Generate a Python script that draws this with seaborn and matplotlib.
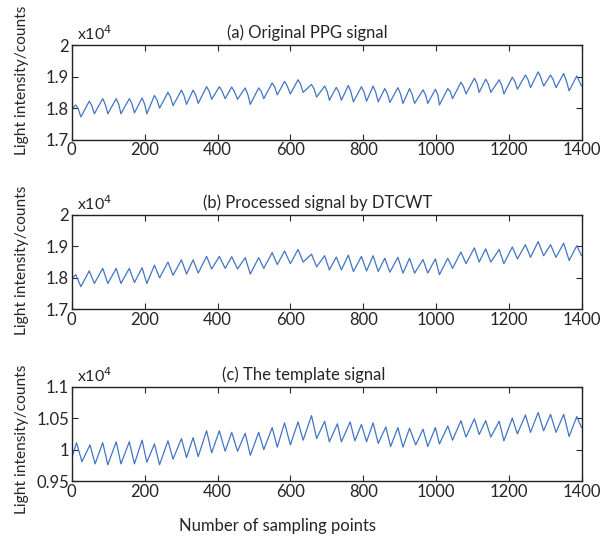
import numpy as np
import pandas as pd
import matplotlib
matplotlib.use("Agg")
import matplotlib.pyplot as plt
import seaborn as sns

#%% data (values in units of 10^4) ################################################
# (b) processed signal: turning points of the waveform
proc_x = [2, 11, 25, 48, 62, 85, 99, 122, 135, 158, 172, 193, 206, 227, 241, 264, 278,
          301, 315, 333, 347, 370, 384, 405, 421, 439, 455, 476, 490, 513, 527, 550, 564,
          584, 600, 621, 635, 658, 672, 694, 707, 726, 740, 759, 773, 795, 809, 827, 841,
          859, 873, 895, 909, 927, 941, 964, 977, 998, 1009, 1032, 1045, 1068, 1082, 1105,
          1118, 1136, 1150, 1173, 1186, 1209, 1223, 1245, 1259, 1280, 1295, 1314, 1329,
          1350, 1365, 1386, 1399]
proc_y = [1.800, 1.810, 1.772, 1.822, 1.782, 1.830, 1.782, 1.830, 1.782, 1.830, 1.785,
          1.832, 1.782, 1.840, 1.800, 1.850, 1.808, 1.857, 1.812, 1.857, 1.815, 1.868,
          1.828, 1.868, 1.830, 1.867, 1.828, 1.864, 1.812, 1.864, 1.830, 1.880, 1.842,
          1.885, 1.845, 1.890, 1.850, 1.875, 1.835, 1.870, 1.825, 1.866, 1.825, 1.872,
          1.820, 1.868, 1.822, 1.870, 1.820, 1.862, 1.818, 1.865, 1.815, 1.862, 1.815,
          1.858, 1.815, 1.860, 1.810, 1.862, 1.830, 1.882, 1.845, 1.895, 1.850, 1.892,
          1.850, 1.890, 1.845, 1.898, 1.860, 1.905, 1.865, 1.915, 1.870, 1.905, 1.865,
          1.910, 1.855, 1.902, 1.870]

# (a) original signal: same beats plus the dicrotic shoulder on each down stroke
notch_x = [18, 55, 92, 129, 165, 200, 234, 271, 308, 340, 377, 412, 446, 483, 520, 557,
           591, 628, 665, 701, 733, 766, 802, 834, 866, 902, 934, 971, 1005, 1039, 1075,
           1112, 1143, 1180, 1216, 1252, 1287, 1321, 1357]
notch_y = [1.797, 1.808, 1.812, 1.812, 1.814, 1.813, 1.826, 1.835, 1.840, 1.842, 1.854,
           1.855, 1.853, 1.844, 1.853, 1.867, 1.871, 1.876, 1.861, 1.853, 1.851, 1.852,
           1.851, 1.851, 1.846, 1.846, 1.844, 1.842, 1.841, 1.852, 1.869, 1.878, 1.877,
           1.873, 1.885, 1.891, 1.898, 1.891, 1.888]

# (c) template signal
tmpl_x = [2, 13, 28, 50, 64, 85, 99, 122, 135, 158, 172, 193, 206, 227, 241, 264, 278,
          301, 315, 333, 347, 370, 384, 405, 421, 439, 455, 476, 490, 513, 527, 550, 564,
          584, 600, 621, 635, 658, 672, 694, 707, 729, 740, 764, 777, 795, 809, 827, 841,
          862, 875, 895, 909, 927, 944, 964, 977, 998, 1009, 1032, 1045, 1068, 1082, 1105,
          1118, 1136, 1150, 1173, 1186, 1209, 1223, 1245, 1259, 1280, 1295, 1314, 1329,
          1350, 1365, 1386, 1399]
tmpl_y = [0.990, 1.011, 0.981, 1.0075, 0.9775, 1.011, 0.976, 1.0125, 0.9775, 1.0125,
          0.9775, 1.015, 0.980, 1.009, 0.976, 1.014, 0.985, 1.0175, 0.9875, 1.019, 0.989,
          1.030, 0.995, 1.030, 0.9975, 1.0275, 0.9975, 1.026, 0.991, 1.0275, 1.000, 1.035,
          1.004, 1.0425, 1.0075, 1.044, 1.015, 1.054, 1.0175, 1.045, 1.0125, 1.041, 1.0125,
          1.044, 1.014, 1.040, 1.0125, 1.0425, 1.010, 1.036, 1.005, 1.035, 1.004, 1.034,
          1.0075, 1.0325, 1.005, 1.035, 1.009, 1.0375, 1.015, 1.046, 1.020, 1.049, 1.024,
          1.046, 1.020, 1.045, 1.014, 1.050, 1.025, 1.055, 1.0275, 1.059, 1.030, 1.056,
          1.0275, 1.056, 1.021, 1.0525, 1.035]

titles = ["(a) Original PPG signal", "(b) Processed signal by DTCWT", "(c) The template signal"]
ylims = [(1.7, 2.0), (1.7, 2.0), (0.95, 1.1)]
yticks = [[1.7, 1.8, 1.9, 2.0], [1.7, 1.8, 1.9, 2.0], [0.95, 1.0, 1.05, 1.1]]
xticks = [0, 200, 400, 600, 800, 1000, 1200, 1400]

#%% tables ########################################################################
proc = pd.DataFrame({"x": proc_x, "y": proc_y})
raw = pd.concat([proc, pd.DataFrame({"x": notch_x, "y": notch_y})]).sort_values("x")
tmpl = pd.DataFrame({"x": tmpl_x, "y": tmpl_y})
frames = [raw, proc, tmpl]

#%% plot ##########################################################################
sns.set_style("ticks")
plt.rcParams["font.family"] = ["Lato", "DejaVu Sans"]

line_col = "#4275c4"
fig = plt.figure(figsize=(6.03, 5.37), dpi=100)
bottoms = [0.740, 0.424, 0.104]
title_x = [0.461, 0.482, 0.455]   # titles are not quite centred in the original
ylab_y = [0.851, 0.516, 0.181]    # the y labels sit a bit off the panel centres

for i, df in enumerate(frames):
    ax = fig.add_axes([0.119, bottoms[i], 0.846, 0.176])
    sns.lineplot(data=df, x="x", y="y", ax=ax, color=line_col, linewidth=0.9)
    ax.set_xlim(0, 1400)
    ax.set_ylim(*ylims[i])
    ax.set_xticks(xticks)
    ax.set_yticks(yticks[i])
    ax.set_yticklabels([f"{v:g}" for v in yticks[i]])
    ax.tick_params(direction="in", top=True, right=True, labelsize=12,
                   length=4, width=0.8, pad=2)
    for s in ax.spines.values():
        s.set_linewidth(1.0)
        s.set_color("#222222")
    ax.set_xlabel("")
    ax.set_ylabel("")
    ax.text(title_x[i], 1.04, titles[i], transform=ax.transAxes, fontsize=12,
            ha="center", va="bottom")
    ax.text(0.01, 1.02, r"x10$^4$", transform=ax.transAxes, fontsize=11.5, va="bottom")
    fig.text(0.036, ylab_y[i], "Light intensity/counts", rotation=90,
             ha="center", va="center", fontsize=11.2)

fig.text(0.46, 0.012, "Number of sampling points", ha="center", fontsize=12)

fig.savefig("out.png", dpi=100)
